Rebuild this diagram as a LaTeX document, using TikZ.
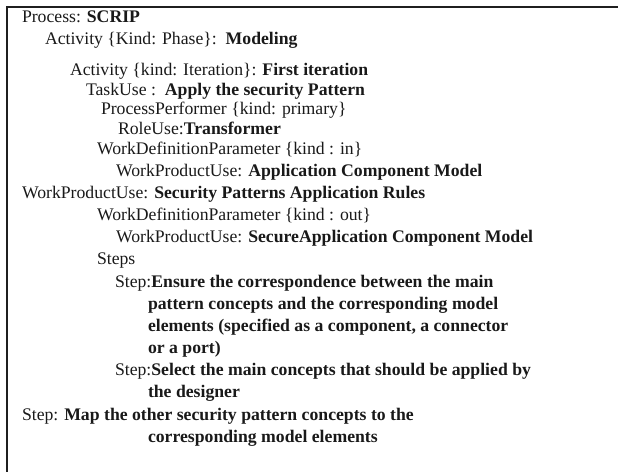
\documentclass[tikz,border=0pt]{standalone}
\usepackage{fontspec}
\setmainfont{Liberation Serif}
\begin{document}
\begin{tikzpicture}[x=1pt,y=-1pt,
  txt/.style={anchor=base west, inner sep=0pt, outer sep=0pt, font=\fontsize{17.7}{21}\selectfont, text=black!90},
  frame/.style={line width=2pt, draw=black!88}]
\useasboundingbox (0,0) rectangle (618,472);
\coordinate (tl) at (7,6.5);
\coordinate (tr) at (618,6.5);
\coordinate (bl) at (7,472);
\draw[frame] (tr) -- (tl) -- (bl);
\node[txt] (l1) at (22,22) {Process: \textbf{SCRIP}};
\node[txt] (l2) at (45,44.5) {Activity \{Kind: Phase\}:\ \ \textbf{Modeling}};
\node[txt] (l3) at (70,75) {Activity \{kind: Iteration\}: \textbf{First iteration}};
\node[txt] (l4) at (86,95) {TaskUse :\ \ \textbf{Apply the security Pattern}};
\node[txt] (l5) at (101,114.5) {ProcessPerformer \{kind: primary\}};
\node[txt] (l6) at (118,134) {RoleUse:\textbf{Transformer}};
\node[txt] (l7) at (97,154) {WorkDefinitionParameter \{kind : in\}};
\node[txt] (l8) at (116,176) {WorkProductUse: \textbf{Application Component Model}};
\node[txt] (l9) at (22,198) {WorkProductUse: \textbf{Security Patterns Application Rules}};
\node[txt] (l10) at (97,220) {WorkDefinitionParameter \{kind : out\}};
\node[txt] (l11) at (116,242) {WorkProductUse: \textbf{SecureApplication Component Model}};
\node[txt] (l12) at (97,264) {Steps};
\node[txt] (l13) at (115,287) {Step:\textbf{Ensure the correspondence between the main}};
\node[txt] (l14) at (148,309) {\textbf{pattern concepts and the corresponding model}};
\node[txt] (l15) at (148,331) {\textbf{elements (specified as a component, a connector}};
\node[txt] (l16) at (148,353) {\textbf{or a port)}};
\node[txt] (l17) at (115,375) {Step:\textbf{Select the main concepts that should be applied by}};
\node[txt] (l18) at (148,397) {\textbf{the designer}};
\node[txt] (l19) at (22,420) {Step: \textbf{Map the other security pattern concepts to the}};
\node[txt] (l20) at (148,442) {\textbf{corresponding model elements}};
\end{tikzpicture}
\end{document}
